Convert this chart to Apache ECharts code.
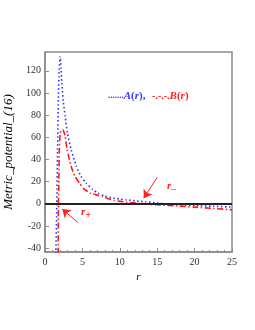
<!DOCTYPE html>
<html><head><meta charset="utf-8">
<script src="https://cdn.jsdelivr.net/npm/echarts@6/dist/echarts.min.js"></script>
<style>html,body{margin:0;padding:0;background:#fff}#c{width:255px;height:330px}</style>
</head><body><div id="c"></div>
<script>
const rA = [1.45, 1.58, 1.68, 1.78, 1.9, 2.03, 2.15, 2.25, 2.45, 2.7, 3.0, 3.5, 4.2, 4.8, 5.5, 6.3, 7.07, 8.0, 8.86, 10, 10.9, 12, 13.5, 15, 16.7, 18.5, 20, 22.5, 25];
const A  = [-45, 0, 48, 94, 121, 133, 122, 109, 92, 79, 64, 48.7, 33.7, 25, 18.7, 13.5, 9.6, 7, 5.6, 4.3, 3.6, 2.7, 1.8, 0.8, -0.3, -1.0, -1.5, -2.2, -3];
const rB = [1.76, 1.8, 1.86, 1.92, 2.03, 2.2, 2.39, 2.55, 2.7, 2.97, 3.5, 4.0, 4.6, 5.2, 6.1, 7.0, 7.7, 8.5, 9.3, 10.9, 12.7, 15, 17.5, 20, 22.5, 25];
const B  = [-45, 0, 25, 48.7, 63.8, 66.5, 66.8, 64.5, 60.8, 48.7, 33.7, 25, 18.7, 13.5, 9.6, 7.8, 6.6, 4.6, 3.0, 1.5, 0.3, -0.9, -1.9, -3, -4.2, -5.4];
const yTicks = [-40, -20, 0, 20, 40, 60, 80, 100, 120];
const xTicks = [0, 5, 10, 15, 20, 25];

const serif = '"Liberation Serif","DejaVu Serif",serif';
const chart = echarts.init(document.getElementById('c'));
const zip = (xs, ys) => xs.map((x, i) => [x, ys[i]]);
chart.setOption({
  animation: false,
  grid: {left: 45, right: 23, top: 52, bottom: 78, show: true, borderColor: '#8c8c8c', borderWidth: 1.5,
         containLabel: false, outerBoundsMode: 'none'},
  xAxis: {
    type: 'value', min: 0, max: 25, interval: 5,
    axisLine: {onZero: false, lineStyle: {color: '#8c8c8c', width: 1.5}},
    axisTick: {inside: true, length: 4, lineStyle: {color: '#8c8c8c'}},
    minorTick: {show: true, splitNumber: 5, length: 2, lineStyle: {color: '#8c8c8c'}},
    splitLine: {show: false},
    axisLabel: {fontFamily: serif, fontSize: 10, color: '#333', margin: 5,
      customValues: xTicks},
    name: 'r', nameLocation: 'middle', nameGap: 19,
    nameTextStyle: {fontFamily: serif, fontStyle: 'italic', fontSize: 11, color: '#000'}
  },
  yAxis: {
    type: 'value', min: -43.5, max: 137,
    axisLine: {lineStyle: {color: '#8c8c8c', width: 1.5}},
    axisTick: {inside: true, length: 4, lineStyle: {color: '#8c8c8c'}, customValues: yTicks},
    splitLine: {show: false},
    axisLabel: {fontFamily: serif, fontSize: 10, color: '#333', margin: 4, customValues: yTicks},
    name: 'Metric_potential_(16)', nameLocation: 'middle', nameGap: 20, nameRotate: 90,
    nameTextStyle: {fontFamily: serif, fontStyle: 'italic', fontSize: 13, color: '#000'}
  },
  series: [
    {type: 'line', data: zip(rA, A), smooth: 0.2, symbol: 'none', clip: true,
     lineStyle: {color: '#2f2fff', width: 1.6, type: [1.5, 2.5]},
     markLine: {silent: true, symbol: 'none', label: {show: false},
       lineStyle: {color: '#222', width: 1.8, type: 'solid'}, data: [{yAxis: 0}]}},
    {type: 'line', data: zip(rB, B), smooth: 0.2, symbol: 'none', clip: true,
     lineStyle: {color: '#ff1a1a', width: 1.6, type: [6, 2.5, 1.5, 2.5]},
     markLine: {silent: true, symbol: ['circle', 'arrow'], symbolSize: 8, label: {show: false},
       itemStyle: {color: '#ff2020'},
       lineStyle: {color: '#ff2020', width: 1, type: 'solid'},
       data: [
         [{coord: [4.39, -16.9], symbolSize: 0}, {coord: [2.3, -4.8], symbolSize: 8}],
         [{coord: [15.0, 24], symbolSize: 0}, {coord: [13.2, 5.1], symbolSize: 8}]
       ]}}
  ],
  graphic: [
    {type: 'text', left: 108, top: 90, style: {
      text: '{bd|.......}{bt|A}{bp|(}{bt|r}{bp|),}  {rd|-.-.-.}{rt|B}{rp|(}{rt|r}{rp|)}',
      rich: {
        bd: {fill: '#3a3aff', fontSize: 9, fontFamily: serif, fontWeight: 'bold'},
        bt: {fill: '#3a3aff', fontSize: 11, fontFamily: serif, fontStyle: 'italic', fontWeight: 'bold'},
        bp: {fill: '#3a3aff', fontSize: 11, fontFamily: serif, fontWeight: 'bold'},
        rd: {fill: '#ff2020', fontSize: 10, fontFamily: serif, fontWeight: 'bold'},
        rt: {fill: '#ff2020', fontSize: 11, fontFamily: serif, fontStyle: 'italic', fontWeight: 'bold'},
        rp: {fill: '#ff2020', fontSize: 11, fontFamily: serif, fontWeight: 'bold'}
      }}},
    {type: 'text', left: 81, top: 207, style: {
      text: '{r|r}{s|+}', rich: {
        r: {fill: '#ff2020', fontSize: 11, fontFamily: serif, fontStyle: 'italic', fontWeight: 'bold'},
        s: {fill: '#ff2020', fontSize: 10, fontFamily: serif, fontWeight: 'bold', padding: [6, 0, 0, 0]}
      }}},
    {type: 'text', left: 167, top: 181, style: {
      text: '{r|r}{s|_}', rich: {
        r: {fill: '#ff2020', fontSize: 11, fontFamily: serif, fontStyle: 'italic', fontWeight: 'bold'},
        s: {fill: '#ff2020', fontSize: 9, fontFamily: serif, fontWeight: 'bold'}
      }}}
  ]
});
</script></body></html>
